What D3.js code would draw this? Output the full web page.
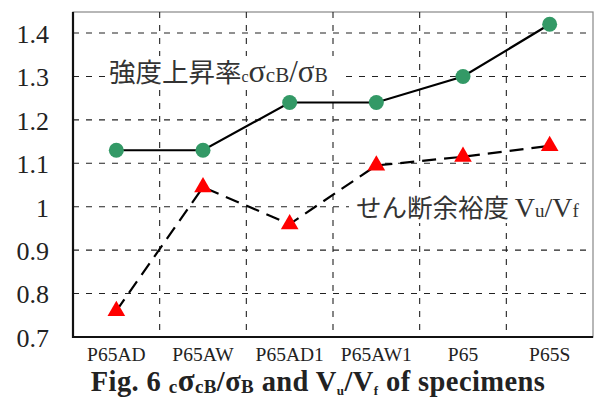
<!DOCTYPE html>
<html>
<head>
<meta charset="utf-8">
<script src="https://cdn.jsdelivr.net/npm/d3@7"></script>
<style>
body{margin:0;background:#fff;}
svg{display:block;}
.serif{font-family:"Liberation Serif","Times New Roman","DejaVu Serif",serif;}
.cjk{font-family:"Noto Sans CJK JP","Noto Sans",sans-serif;}
</style>
</head>
<body>
<script>
// data
const specimens = ["P65AD","P65AW","P65AD1","P65AW1","P65","P65S"];
const strengthRatio = [1.13,1.13,1.24,1.24,1.30,1.42];   // cσcB/σB
const shearMargin = [0.76,1.045,0.96,1.095,1.115,1.14];   // Vu/Vf
const yTicks = [0.7,0.8,0.9,1.0,1.1,1.2,1.3,1.4];
const yTickLabels = ["0.7","0.8","0.9","1","1.1","1.2","1.3","1.4"];

const W = 595, H = 398;
const plotL = 73, plotR = 593, plotT = 12, plotB = 337;
const serifFont = '"Liberation Serif","Times New Roman",serif';

const svg = d3.select("body").append("svg")
	.attr("width", W)
	.attr("height", H);

const x = d3.scaleBand().domain(specimens).range([plotL, plotR]);
const y = d3.scaleLinear().domain([0.7, 1.4]).range([plotB, 33]);

// frame
svg.append("rect")
	.attr("x", plotL).attr("y", plotT)
	.attr("width", plotR-plotL).attr("height", plotB-plotT)
	.attr("fill", "none")
	.attr("stroke", "#888")
	.attr("stroke-width", 1.2);

// grid
const grid = svg.append("g").attr("stroke", "#222").attr("stroke-width", 1.1).attr("stroke-dasharray", "6,7");
grid.selectAll("line.h")
	.data(yTicks.slice(1))
	.join("line")
	.attr("class","h")
	.attr("x1", plotL).attr("x2", plotR)
	.attr("y1", d => y(d)).attr("y2", d => y(d));
grid.selectAll("line.v")
	.data(specimens.slice(1))
	.join("line")
	.attr("class","v")
	.attr("x1", d => x(d)).attr("x2", d => x(d))
	.attr("y1", plotT).attr("y2", plotB);

// left + bottom axis lines
svg.append("line").attr("x1", plotL).attr("x2", plotL).attr("y1", plotT).attr("y2", plotB+1)
	.attr("stroke", "#111").attr("stroke-width", 2.2);
svg.append("line").attr("x1", plotL-1).attr("x2", plotR).attr("y1", plotB).attr("y2", plotB)
	.attr("stroke", "#111").attr("stroke-width", 2.2);

// tick labels via d3 axes
const yAxis = svg.append("g")
	.attr("transform", `translate(${plotL},0)`)
	.call(d3.axisLeft(y).tickValues(yTicks).tickFormat((d,i) => yTickLabels[i]).tickSize(0).tickPadding(24));
yAxis.select(".domain").remove();
yAxis.selectAll("text")
	.style("font-family", serifFont)
	.style("font-size", "26px")
	.attr("fill", "#222")
	.attr("dy", "0.36em");

const xAxis = svg.append("g")
	.attr("transform", `translate(0,${plotB})`)
	.call(d3.axisBottom(x).tickSize(0).tickPadding(9));
xAxis.select(".domain").remove();
xAxis.selectAll("text")
	.style("font-family", serifFont)
	.style("font-size", "19.5px")
	.attr("fill", "#222")
	.attr("dy", "0.76em");

// series label boxes
svg.append("rect").attr("x", 106).attr("y", 56).attr("width", 236).attr("height", 33).attr("fill", "#fff");
svg.append("rect").attr("x", 349).attr("y", 191).attr("width", 238).attr("height", 32).attr("fill", "#fff");

const lab1 = svg.append("text").attr("x", 109).attr("y", 82).attr("fill", "#333");
lab1.append("tspan").attr("class", "cjk").style("font-size", "26.5px").text("強度上昇率");
lab1.append("tspan").attr("class", "serif").style("font-size", "16px").text("c");
lab1.append("tspan").attr("class", "serif").style("font-size", "32px").text("σ");
lab1.append("tspan").attr("class", "serif").style("font-size", "21px").text("cB");
lab1.append("tspan").attr("class", "serif").style("font-size", "31px").text("/σ");
lab1.append("tspan").attr("class", "serif").style("font-size", "20px").text("B");

const lab2 = svg.append("text").attr("x", 356).attr("y", 217).attr("fill", "#333");
lab2.append("tspan").attr("class", "cjk").style("font-size", "25.5px").text("せん断余裕度 ");
lab2.append("tspan").attr("class", "serif").style("font-size", "28px").text("V");
lab2.append("tspan").attr("class", "serif").style("font-size", "19px").text("u");
lab2.append("tspan").attr("class", "serif").style("font-size", "28px").text("/V");
lab2.append("tspan").attr("class", "serif").style("font-size", "19px").text("f");

// lines
const cx = d => x(d) + x.bandwidth()/2;
const line1 = d3.line().x((d,i) => cx(specimens[i])).y(d => y(d));
svg.append("path")
	.attr("d", line1(strengthRatio))
	.attr("fill", "none")
	.attr("stroke", "#000")
	.attr("stroke-width", 2.2);
svg.append("path")
	.attr("d", line1(shearMargin))
	.attr("fill", "none")
	.attr("stroke", "#000")
	.attr("stroke-width", 2.2)
	.attr("stroke-dasharray", "14,8");

// markers
svg.selectAll("circle.s1")
	.data(strengthRatio)
	.join("circle")
	.attr("class","s1")
	.attr("cx", (d,i) => cx(specimens[i]))
	.attr("cy", d => y(d))
	.attr("r", 7.5)
	.attr("fill", "#339966");

svg.selectAll("path.s2")
	.data(shearMargin)
	.join("path")
	.attr("class","s2")
	.attr("d", d3.symbol(d3.symbolTriangle, 135))
	.attr("transform", (d,i) => `translate(${cx(specimens[i])},${y(d)})`)
	.attr("fill", "#ff0000");

// caption
const cap = svg.append("text")
	.attr("class", "serif")
	.attr("x", 318).attr("y", 391)
	.attr("text-anchor", "middle")
	.style("font-weight", "bold")
	.style("font-size", "28.5px")
	.style("letter-spacing", "0.4px")
	.attr("fill", "#222");
cap.append("tspan").text("Fig. 6 ");
cap.append("tspan").style("font-size", "19px").attr("dy", 2).text("c");
cap.append("tspan").style("font-size", "31px").attr("dy", -2).text("σ");
cap.append("tspan").style("font-size", "19px").attr("dy", 2).text("cB");
cap.append("tspan").attr("dy", -2).text("/σ");
cap.append("tspan").style("font-size", "19px").attr("dy", 2).text("B");
cap.append("tspan").attr("dy", -2).text(" and V");
cap.append("tspan").style("font-size", "13px").attr("dy", 4).text("u");
cap.append("tspan").attr("dy", -4).text("/V");
cap.append("tspan").style("font-size", "13px").attr("dy", 4).text("f");
cap.append("tspan").attr("dy", -4).text(" of specimens");
</script>
</body>
</html>
